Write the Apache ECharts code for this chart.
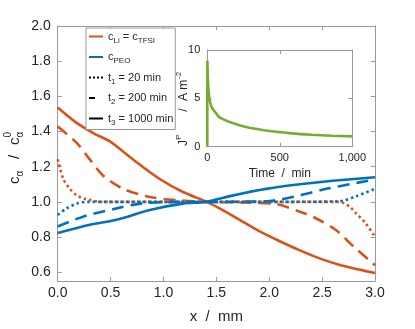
<!DOCTYPE html>
<html>
<head>
<meta charset="utf-8">
<script src="https://cdn.jsdelivr.net/npm/echarts@6/dist/echarts.min.js"></script>
<style>html,body{margin:0;padding:0;background:#fff}#c{width:415px;height:329px}</style>
</head>
<body>
<div id="c"></div>
<script>
// ---- data ----
// position x in mm, normalised concentration c/c0
var liT1X = [0, 0.053, 0.116, 0.18, 0.27, 0.43, 1.0, 2.0, 2.66, 2.76, 2.82, 2.91, 3.0];
var liT1Y = [1.242, 1.13, 1.074, 1.037, 1.015, 1.0, 1.0, 1.0, 1.0, 0.972, 0.935, 0.88, 0.80];
var liT2X = [0, 0.18, 0.305, 0.43, 0.62, 0.87, 1.12, 1.4, 1.85, 2.07, 2.29, 2.44, 2.63, 2.79, 3.0];
var liT2Y = [1.428, 1.335, 1.24, 1.149, 1.074, 1.028, 1.01, 1.0, 0.995, 0.987, 0.944, 0.907, 0.84, 0.75, 0.64];
var liT3X = [0, 0.163, 0.336, 0.49, 0.71, 0.965, 1.185, 1.41, 1.53, 1.72, 1.91, 2.10, 2.29, 2.47, 2.66, 2.85, 3.0];
var liT3Y = [1.536, 1.456, 1.391, 1.345, 1.242, 1.13, 1.056, 1.0, 0.963, 0.898, 0.832, 0.776, 0.724, 0.68, 0.642, 0.615, 0.595];
var peoT1X = [0, 0.085, 0.18, 0.27, 1.0, 2.0, 2.66, 2.82, 3.0];
var peoT1Y = [0.926, 0.963, 0.99, 1.0, 1.0, 1.0, 1.003, 1.032, 1.074];
var peoT2X = [0, 0.24, 0.557, 0.78, 1.0, 1.5, 2.0, 2.29, 2.54, 2.76, 3.0];
var peoT2Y = [0.86, 0.916, 0.963, 0.99, 0.998, 1.0, 1.005, 1.037, 1.074, 1.10, 1.128];
var peoT3X = [0, 0.305, 0.557, 0.87, 1.185, 1.40, 1.66, 1.97, 2.29, 2.6, 3.0];
var peoT3Y = [0.823, 0.870, 0.898, 0.954, 0.99, 1.0, 1.037, 1.074, 1.10, 1.12, 1.14];
// inset: time (min), J^P (A m^-2)
var timeMin = [0, 0.5, 3, 6, 11, 20, 30, 53, 76, 100, 168, 260, 352, 444, 582, 720, 858, 1000];
var currentJ = [0, 8.9, 7.4, 6.4, 5.4, 4.6, 4.1, 3.6, 3.15, 2.9, 2.48, 2.07, 1.8, 1.59, 1.38, 1.24, 1.14, 1.07];
// ticks
var yTicks = [0.6, 0.8, 1.0, 1.2, 1.4, 1.6, 1.8, 2.0];
var legendNames = ['cLi', 'cPEO', 't1', 't2', 't3'];

function zip(a, b) { return a.map(function (v, i) { return [v, b[i]]; }); }

var ORANGE = '#D95319', BLUE = '#0072BD', GREEN = '#77AC30';
var TXT = '#262626', AX = '#9a9a9a';
var FONT = 'Liberation Sans';
var DOT = [2.5, 3], DASH = [12, 7];

var chart = echarts.init(document.getElementById('c'), null, {renderer: 'canvas'});

function axisCommon(extra) {
  var o = {
    type: 'value',
    splitLine: {show: false},
    axisLine: {show: true, onZero: false, lineStyle: {color: AX, width: 1}},
    axisTick: {show: true, inside: true, length: 4, lineStyle: {color: AX}},
    axisLabel: {color: TXT, fontFamily: FONT}
  };
  for (var k in extra) o[k] = extra[k];
  return o;
}

var legendRich = {
  n: {fontSize: 11, color: TXT, fontFamily: FONT},
  s: {fontSize: 8, color: TXT, fontFamily: FONT, padding: [8, 0, 0, 0]}
};
var legendText = {
  cLi: '{n|c}{s|Li}{n| = c}{s|TFSI}',
  cPEO: '{n|c}{s|PEO}',
  t1: '{n|t}{s|1}{n| = 20 min}',
  t2: '{n|t}{s|2}{n| = 200 min}',
  t3: '{n|t}{s|3}{n| = 1000 min}'
};

function line(name, xs, ys, color, type, xi, yi, w) {
  return {
    name: name, type: 'line', xAxisIndex: xi || 0, yAxisIndex: yi || 0,
    data: zip(xs, ys), showSymbol: false, symbol: 'none', smooth: 0.3,
    lineStyle: {color: color, width: w || 2.6, type: type, cap: 'butt'},
    itemStyle: {color: color}, silent: true, animation: false
  };
}

var option = {
  animation: false,
  backgroundColor: '#fff',
  textStyle: {fontFamily: FONT},
  grid: [
    {left: 57.7, top: 26, width: 317.3, height: 259.7, containLabel: false},
    {left: 207.3, top: 50, width: 145, height: 96.7, containLabel: false, show: true, backgroundColor: '#fff', borderWidth: 0}
  ],
  xAxis: [
    axisCommon({gridIndex: 0, position: 'bottom', min: 0, max: 3, interval: 0.5,
      axisLabel: {color: TXT, fontFamily: FONT, fontSize: 14, margin: 5, formatter: function (v) { return v.toFixed(1); }},
      name: 'x  /  mm', nameLocation: 'middle', nameGap: 28,
      nameTextStyle: {color: TXT, fontFamily: FONT, fontSize: 15}}),
    axisCommon({gridIndex: 0, position: 'top', min: 0, max: 3, interval: 0.5, axisLabel: {show: false}}),
    axisCommon({gridIndex: 1, position: 'bottom', min: 0, max: 1000, interval: 500,
      axisLabel: {color: TXT, fontFamily: FONT, fontSize: 11, margin: 6},
      name: 'Time  /  min', nameLocation: 'middle', nameGap: 21,
      nameTextStyle: {color: TXT, fontFamily: FONT, fontSize: 12}}),
    axisCommon({gridIndex: 1, position: 'top', min: 0, max: 1000, interval: 500, axisLabel: {show: false}})
  ],
  yAxis: [
    axisCommon({gridIndex: 0, position: 'left', min: 0.55, max: 2.0,
      axisLabel: {color: TXT, fontFamily: FONT, fontSize: 14, margin: 7, customValues: yTicks, formatter: function (v) { return v.toFixed(1); }},
      axisTick: {show: true, inside: true, length: 4, lineStyle: {color: AX}, customValues: yTicks}}),
    axisCommon({gridIndex: 0, position: 'right', min: 0.55, max: 2.0,
      axisLabel: {show: false, customValues: yTicks},
      axisTick: {show: true, inside: true, length: 4, lineStyle: {color: AX}, customValues: yTicks}}),
    axisCommon({gridIndex: 1, position: 'left', min: 0, max: 10, interval: 5,
      axisLabel: {color: TXT, fontFamily: FONT, fontSize: 11, margin: 7}}),
    axisCommon({gridIndex: 1, position: 'right', min: 0, max: 10, interval: 5, axisLabel: {show: false}})
  ],
  legend: {
    data: legendNames,
    orient: 'vertical', left: 86, top: 28,
    itemWidth: 14, itemHeight: 10, itemGap: 7,
    padding: [3, 2, 3, 2],
    borderColor: AX, borderWidth: 1, backgroundColor: '#fff',
    selectedMode: false,
    itemStyle: {opacity: 0, borderWidth: 0},
    textStyle: {color: TXT, fontSize: 11, fontFamily: FONT, rich: legendRich},
    formatter: function (n) { return legendText[n]; }
  },
  series: [
    line('liT1', liT1X, liT1Y, ORANGE, DOT),
    line('liT2', liT2X, liT2Y, ORANGE, DASH),
    line('cLi', liT3X, liT3Y, ORANGE, 'solid'),
    line('peoT1', peoT1X, peoT1Y, BLUE, DOT),
    line('peoT2', peoT2X, peoT2Y, BLUE, DASH),
    line('cPEO', peoT3X, peoT3Y, BLUE, 'solid'),
    line('t1', [], [], '#000', [2, 2], 0, 0, 2),
    line('t2', [], [], '#000', [6, 20], 0, 0, 2),
    line('t3', [], [], '#000', 'solid', 0, 0, 2),
    line('J', timeMin, currentJ, GREEN, 'solid', 2, 2, 2.6)
  ],
  graphic: [
    {type: 'group', x: 15, y: 157, rotation: Math.PI / 2, silent: true, children: [
      {type: 'text', x: -27, y: 0, style: {text: 'c', font: '15px "Liberation Sans"', fill: TXT, verticalAlign: 'middle'}},
      {type: 'text', x: -19.5, y: 5, style: {text: 'α', font: '10px "Liberation Sans"', fill: TXT, verticalAlign: 'middle'}},
      {type: 'text', x: -2, y: 0, style: {text: '/', font: '15px "Liberation Sans"', fill: TXT, verticalAlign: 'middle'}},
      {type: 'text', x: 12, y: 0, style: {text: 'c', font: '15px "Liberation Sans"', fill: TXT, verticalAlign: 'middle'}},
      {type: 'text', x: 19.5, y: -7, style: {text: '0', font: '10px "Liberation Sans"', fill: TXT, verticalAlign: 'middle'}},
      {type: 'text', x: 19.5, y: 5, style: {text: 'α', font: '10px "Liberation Sans"', fill: TXT, verticalAlign: 'middle'}}
    ]},
    {type: 'group', x: 184, y: 110, rotation: Math.PI / 2, silent: true, children: [
      {type: 'text', x: -36, y: 0, style: {text: 'J', font: '12px "Liberation Sans"', fill: TXT, verticalAlign: 'middle'}},
      {type: 'text', x: -30, y: -5, style: {text: 'P', font: '8px "Liberation Sans"', fill: TXT, verticalAlign: 'middle'}},
      {type: 'text', x: -1.7, y: 0, style: {text: '/', font: '12px "Liberation Sans"', fill: TXT, verticalAlign: 'middle'}},
      {type: 'text', x: 9, y: 0, style: {text: 'A m', font: '12px "Liberation Sans"', fill: TXT, verticalAlign: 'middle'}},
      {type: 'text', x: 31, y: -5, style: {text: '-2', font: '8px "Liberation Sans"', fill: TXT, verticalAlign: 'middle'}}
    ]}
  ]
};
chart.setOption(option);
</script>
</body>
</html>
